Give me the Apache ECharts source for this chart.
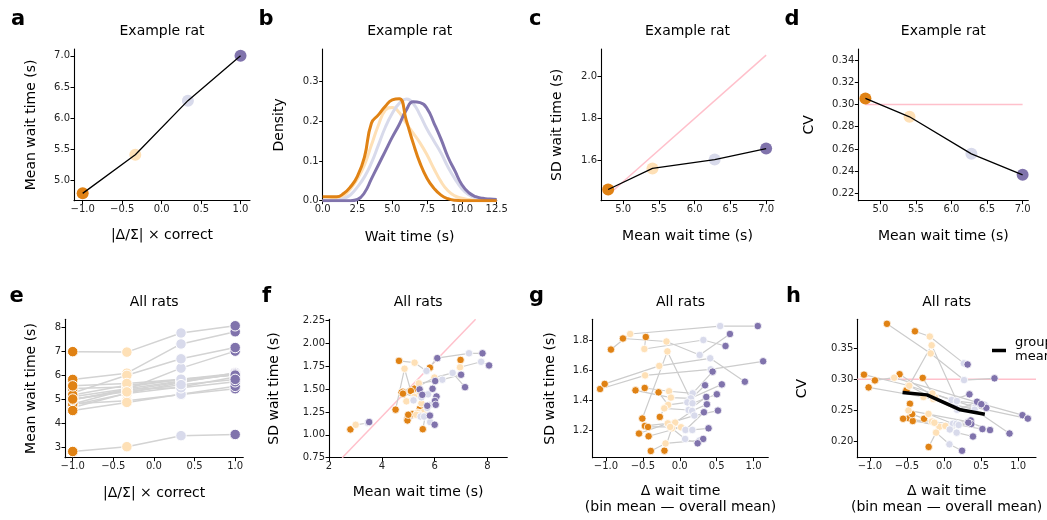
<!DOCTYPE html>
<html><head><meta charset="utf-8">
<script src="https://cdn.jsdelivr.net/npm/echarts@6/dist/echarts.min.js"></script>
<style>html,body{margin:0;padding:0;background:#fff}#c{width:1047px;height:520px}</style>
</head><body><div id="c"></div>
<script>
// ---------- data ----------
const binX = [-1, -1/3, 1/3, 1];
const binColors = ['#e08214', '#fee0b6', '#d8daeb', '#8073ac'];
const cvRef = 0.3;

// Example rat
const exMean = [4.79, 5.41, 6.28, 7.0];
const exSD = [1.463, 1.563, 1.605, 1.657];

// Wait-time densities (example rat), x grid in s
const densX = [0,0.5,1,1.5,2,2.5,3,3.5,4,4.5,5,5.5,6,6.5,7,7.5,8,8.5,9,9.5,10,10.5,11,11.5,12,12.5];
const densB1 = [0.010,0.010,0.010,0.018,0.035,0.062,0.110,0.195,0.216,0.238,0.254,0.257,0.203,0.145,0.094,0.056,0.031,0.014,0.005,0.001,0,0,0,0,0,0];
const densB2 = [0,0.002,0.005,0.012,0.030,0.055,0.090,0.140,0.190,0.228,0.235,0.222,0.195,0.170,0.145,0.115,0.080,0.048,0.025,0.012,0.006,0.003,0.001,0,0,0];
const densB3 = [0,0,0.001,0.005,0.015,0.035,0.060,0.095,0.140,0.185,0.220,0.245,0.256,0.245,0.215,0.180,0.150,0.120,0.085,0.055,0.030,0.015,0.007,0.003,0.002,0.001];
const densB4 = [0,0,0,0,0,0.003,0.020,0.055,0.090,0.125,0.160,0.192,0.228,0.249,0.247,0.232,0.195,0.155,0.110,0.075,0.040,0.020,0.010,0.006,0.004,0.003];

// All rats: mean wait time per bin (one entry per rat)
const meanB1 = [5.82, 6.98, 4.65, 2.81, 4.79, 5.25, 5.10, 4.75, 4.80, 4.52, 5.44, 5.17, 4.97, 4.97, 5.55, 5.00];
const meanB2 = [6.08, 6.96, 5.24, 3.01, 5.40, 5.99, 5.43, 5.23, 4.93, 4.86, 5.50, 5.58, 5.36, 5.41, 5.65, 5.30];
const meanB3 = [7.30, 7.76, 5.69, 3.47, 6.29, 6.68, 5.75, 5.50, 5.19, 5.20, 5.83, 5.81, 5.72, 5.47, 5.83, 5.60];
const meanB4 = [7.81, 8.06, 6.10, 3.52, 7.00, 7.15, 6.02, 5.92, 5.43, 5.53, 6.07, 6.01, 6.04, 5.72, 6.00, 5.82];
// All rats: SD of wait time per bin
const sdB1 = [1.736, 1.82, 1.81, 1.06, 1.473, 1.507, 1.48, 1.464, 1.451, 1.276, 1.287, 1.227, 1.176, 1.158, 1.062, 1.22];
const sdB2 = [1.84, 1.74, 1.79, 1.11, 1.564, 1.627, 1.458, 1.416, 1.367, 1.724, 1.344, 1.249, 1.244, 1.218, 1.211, 1.22];
const sdB3 = [1.893, 1.80, 1.70, 1.13, 1.604, 1.678, 1.444, 1.411, 1.384, 1.378, 1.333, 1.327, 1.296, 1.20, 1.14, 1.20];
const sdB4 = [1.893, 1.76, 1.84, 1.14, 1.658, 1.522, 1.589, 1.504, 1.498, 1.438, 1.42, 1.371, 1.329, 1.318, 1.111, 1.211];

// group mean (panel h)
const gmDelta = [-0.56, -0.23, 0.22, 0.55];
const gmCV = [0.279, 0.275, 0.251, 0.244];

// tick values
const ticksA_x = [-1, -0.5, 0, 0.5, 1];
const ticksA_y = [5, 5.5, 6, 6.5, 7];
const ticksB_x = [0, 2.5, 5, 7.5, 10, 12.5];
const ticksB_y = [0, 0.1, 0.2, 0.3];
const ticksC_x = [5, 5.5, 6, 6.5, 7];
const ticksC_y = [1.6, 1.8, 2.0];
const ticksD_y = [0.22, 0.24, 0.26, 0.28, 0.30, 0.32, 0.34];
const ticksE_y = [3, 4, 5, 6, 7, 8];
const ticksF_x = [2, 4, 6, 8];
const ticksF_y = [0.75, 1.0, 1.25, 1.5, 1.75, 2.0, 2.25];
const ticksG_y = [1.2, 1.4, 1.6, 1.8];
const ticksH_y = [0.20, 0.25, 0.30, 0.35];

// ---------- build ----------
const FONT = 'DejaVu Sans';
const meansBins = [meanB1, meanB2, meanB3, meanB4];
const sdBins = [sdB1, sdB2, sdB3, sdB4];
const nRat = meanB1.length;
const densBins = [densB1, densB2, densB3, densB4];

function fmt(dec) { return v => Number(v).toFixed(dec).replace('-', '\u2212'); }

function axis(gi, min, max, ticks, dec, name, gap) {
  return {
    type: 'value', gridIndex: gi, min: min, max: max,
    axisLine: { show: true, onZero: false, lineStyle: { color: '#000', width: 1.1 } },
    axisTick: { show: true, length: 3.5, inside: false, customValues: ticks, lineStyle: { color: '#000', width: 1 } },
    axisLabel: { show: true, customValues: ticks, formatter: fmt(dec), color: '#222', fontSize: 10, fontFamily: FONT, margin: 4 },
    splitLine: { show: false },
    name: name, nameLocation: 'middle', nameGap: gap,
    nameTextStyle: { fontSize: 14, fontFamily: FONT, color: '#000', lineHeight: 15.6 }
  };
}

const grids = [
  { left: 74, top: 49, width: 176, height: 151.7 },
  { left: 322.7, top: 49, width: 174, height: 151.7 },
  { left: 601, top: 49, width: 173, height: 151.7 },
  { left: 858.3, top: 49, width: 170, height: 151.7 },
  { left: 65, top: 319.3, width: 178.3, height: 138.4 },
  { left: 329, top: 319.3, width: 178.3, height: 138.4 },
  { left: 592.7, top: 319.3, width: 175.6, height: 138.4 },
  { left: 857.3, top: 319.3, width: 178.7, height: 138.4 }
];

const xAxes = [
  axis(0, -1.11, 1.12, ticksA_x, 1, '|Δ/Σ| × correct', 27),
  axis(1, 0, 12.5, ticksB_x, 1, 'Wait time (s)', 29),
  axis(2, 4.69, 7.11, ticksC_x, 1, 'Mean wait time (s)', 28),
  axis(3, 4.69, 7.08, ticksC_x, 1, 'Mean wait time (s)', 28),
  axis(4, -1.095, 1.1, ticksA_x, 1, '|Δ/Σ| × correct', 28),
  axis(5, 2, 8.75, ticksF_x, 0, 'Mean wait time (s)', 27),
  axis(6, -1.18, 1.2, ticksA_x, 1, 'Δ wait time\n(bin mean — overall mean)', 26),
  axis(7, -1.17, 1.24, ticksA_x, 1, 'Δ wait time\n(bin mean — overall mean)', 26)
];
const yAxes = [
  axis(0, 4.672, 7.11, ticksA_y, 1, 'Mean wait time (s)', 35),
  axis(1, 0, 0.382, ticksB_y, 1, 'Density', 36),
  axis(2, 1.41, 2.129, ticksC_y, 1, 'SD wait time (s)', 36),
  axis(3, 0.2134, 0.3499, ticksD_y, 2, 'CV', 41),
  axis(4, 2.55, 8.33, ticksE_y, 0, 'Mean wait time (s)', 26),
  axis(5, 0.75, 2.265, ticksF_y, 2, 'SD wait time (s)', 47),
  axis(6, 1.015, 1.938, ticksG_y, 1, 'SD wait time (s)', 35),
  axis(7, 0.174, 0.3965, ticksH_y, 2, 'CV', 47)
];

const series = [];
function S(type, gi, data, opts) {
  series.push(Object.assign({ type: type, xAxisIndex: gi, yAxisIndex: gi, data: data, animation: false, silent: true }, opts));
}
function lineOpts(color, width, z, smooth) {
  return { symbol: 'none', smooth: !!smooth, lineStyle: { color: color, width: width }, z: z };
}
function scatterOpts(color, size, border, z) {
  return { symbolSize: size, itemStyle: { color: color, borderColor: '#fff', borderWidth: border, opacity: 1 }, z: z };
}

// Panel a
S('scatter', 0, exMean.map((m, i) => ({ value: [binX[i], m], itemStyle: { color: binColors[i] } })), scatterOpts('#000', 12, 0, 3));
S('line', 0, exMean.map((m, i) => [binX[i], m]), lineOpts('#000', 1.3, 4));

// Panel b
[1, 2, 3, 0].forEach(b => {
  S('line', 1, densX.map((x, i) => [x, densBins[b][i]]), lineOpts(binColors[b], 3, 2 + (b === 0 ? 3 : b), true));
});

// Panel c
S('line', 2, [[exMean[0], cvRef * exMean[0]], [exMean[3], cvRef * exMean[3]]], lineOpts('#ffc0cb', 1.5, 1));
S('scatter', 2, exMean.map((m, i) => ({ value: [m, exSD[i]], itemStyle: { color: binColors[i] } })), scatterOpts('#000', 12, 0, 3));
S('line', 2, exMean.map((m, i) => [m, exSD[i]]), lineOpts('#000', 1.3, 4));

// Panel d
S('line', 3, [[exMean[0], cvRef], [exMean[3], cvRef]], lineOpts('#ffc0cb', 1.5, 1));
S('scatter', 3, exMean.map((m, i) => ({ value: [m, exSD[i] / m], itemStyle: { color: binColors[i] } })), scatterOpts('#000', 12, 0, 3));
S('line', 3, exMean.map((m, i) => [m, exSD[i] / m]), lineOpts('#000', 1.3, 4));

// All-rats derived per-rat quantities
const ratAvg = [];
for (let r = 0; r < nRat; r++) {
  ratAvg.push((meanB1[r] + meanB2[r] + meanB3[r] + meanB4[r]) / 4);
}
function delta(b, r) { return meansBins[b][r] - ratAvg[r]; }

// Panel e
for (let r = 0; r < nRat; r++) {
  S('line', 4, binX.map((x, b) => [x, meansBins[b][r]]), lineOpts('#d3d3d3', 1.5, 1));
}
for (let b = 0; b < 4; b++) {
  S('scatter', 4, meansBins[b].map(m => [binX[b], m]), scatterOpts(binColors[b], 10.5, 1, 3));
}

// Panel f
S('line', 5, [[0.75 / cvRef, 0.75], [2.265 / cvRef, 2.265]], lineOpts('#ffc0cb', 1.5, 1));
for (let r = 0; r < nRat; r++) {
  S('line', 5, binX.map((x, b) => [meansBins[b][r], sdBins[b][r]]), lineOpts('#cccccc', 1.2, 2));
}
for (let b = 0; b < 4; b++) {
  S('scatter', 5, meansBins[b].map((m, r) => [m, sdBins[b][r]]), scatterOpts(binColors[b], 7.5, 0.8, 3));
}

// Panel g
for (let r = 0; r < nRat; r++) {
  S('line', 6, binX.map((x, b) => [delta(b, r), sdBins[b][r]]), lineOpts('#cccccc', 1.2, 2));
}
for (let b = 0; b < 4; b++) {
  S('scatter', 6, meansBins[b].map((m, r) => [delta(b, r), sdBins[b][r]]), scatterOpts(binColors[b], 7.5, 0.8, 3));
}

// Panel h
S('line', 7, [[-1.17, cvRef], [1.24, cvRef]], lineOpts('#ffc0cb', 1.5, 1));
for (let r = 0; r < nRat; r++) {
  S('line', 7, binX.map((x, b) => [delta(b, r), sdBins[b][r] / meansBins[b][r]]), lineOpts('#cccccc', 1.2, 2));
}
for (let b = 0; b < 4; b++) {
  S('scatter', 7, meansBins[b].map((m, r) => [delta(b, r), sdBins[b][r] / m]), scatterOpts(binColors[b], 7.5, 0.8, 3));
}
S('line', 7, gmDelta.map((d, i) => [d, gmCV[i]]), lineOpts('#000', 3.5, 5));

// ---------- text ----------
const graphics = [];
function txt(t, x, y, size, weight, align) {
  graphics.push({ type: 'text', x: x, y: y, silent: true, z: 10,
    style: { text: t, fontSize: size, fontFamily: FONT, fontWeight: weight || 'normal', fill: '#000',
      align: align || 'center', textAlign: align || 'center', verticalAlign: 'middle', textVerticalAlign: 'middle' } });
}
const panelTitles = [
  ['Example rat', 162, 31.2], ['Example rat', 409.7, 31.2], ['Example rat', 687.5, 31.2], ['Example rat', 943.3, 31.2],
  ['All rats', 154.2, 302.5], ['All rats', 418.2, 302.5], ['All rats', 680.5, 302.5], ['All rats', 946.7, 302.5]
];
panelTitles.forEach(p => txt(p[0], p[1], p[2], 14, 'normal', 'center'));
const letters = [['a', 11, 19.4], ['b', 258.5, 19.4], ['c', 529, 19.4], ['d', 784.5, 19.4],
  ['e', 9.5, 296.7], ['f', 262, 296.7], ['g', 529, 296.7], ['h', 786, 296.7]];
letters.forEach(p => txt(p[0], p[1], p[2], 21, 'bold', 'left'));
// legend for group mean
graphics.push({ type: 'line', silent: true, z: 10, shape: { x1: 992, y1: 350.5, x2: 1006, y2: 350.5 }, style: { stroke: '#000', lineWidth: 3.5 } });
txt('group', 1015, 343, 13, 'normal', 'left');
txt('mean', 1015, 356.5, 13, 'normal', 'left');

const chart = echarts.init(document.getElementById('c'), null, { renderer: 'canvas', width: 1047, height: 520 });
chart.setOption({
  animation: false,
  backgroundColor: '#fff',
  textStyle: { fontFamily: FONT },
  grid: grids,
  xAxis: xAxes,
  yAxis: yAxes,
  series: series,
  graphic: { elements: graphics }
});
</script>
</body></html>
